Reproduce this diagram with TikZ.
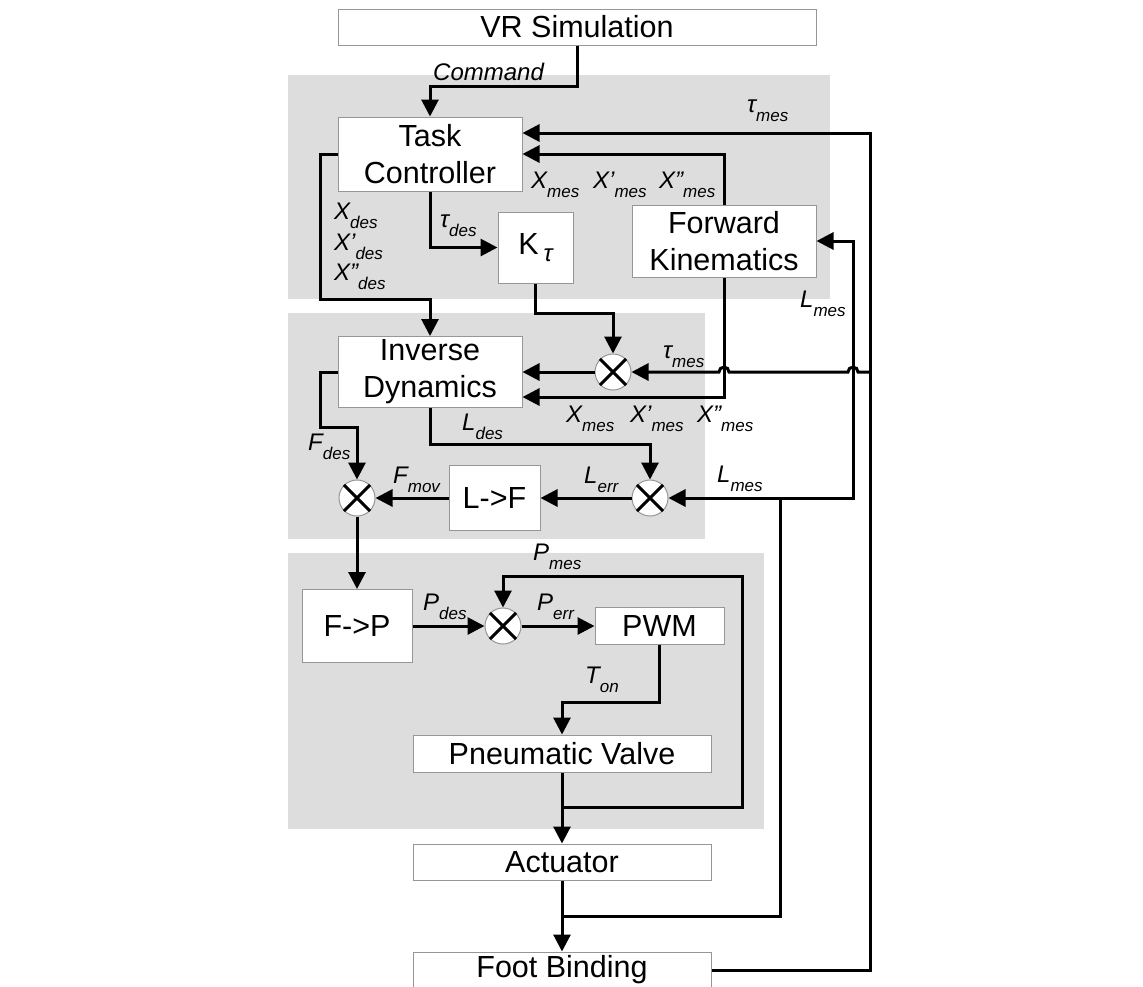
\documentclass[tikz,border=0pt]{standalone}
\usepackage{fontspec}
\setmainfont{Liberation Sans}
\usetikzlibrary{arrows.meta}
\definecolor{panel}{RGB}{221,221,221}
\definecolor{bord}{RGB}{150,150,150}
\newcommand{\lsub}[1]{\raisebox{-9pt}{\fontsize{17}{17}\selectfont\itshape #1}}
\begin{document}
\begin{tikzpicture}[x=1pt,y=-1pt,
  box/.style={draw=bord, line width=1pt, fill=white, inner sep=0pt, font=\fontsize{30.5}{37}\selectfont, align=center},
  conn/.style={line width=3pt, -{Triangle[length=17pt,width=17pt]}},
  wire/.style={line width=3pt},
  lab/.style={inner sep=0pt, anchor=base west, font=\fontsize{24}{26}\selectfont\itshape},
  mult/.style={circle, draw=bord, line width=1pt, fill=white, minimum size=36pt, inner sep=0pt},
  cross/.style={line width=3pt}]
\useasboundingbox (0,0) rectangle (1143,986);
% panels
\fill[panel] (288,75) rectangle (830,299);
\fill[panel] (288,313) rectangle (705,539);
\fill[panel] (288,553) rectangle (764,829);
% boxes
\node[box, minimum width=478pt, minimum height=36pt] (VR) at (577,27) {VR Simulation};
\node[box, minimum width=184pt, minimum height=74pt] (TC) at (430,154) {Task\\Controller};
\node[box, minimum width=75pt, minimum height=71pt] (Kt) at (535.5,247.5) {K\,\raisebox{-7pt}{\fontsize{24}{24}\selectfont\itshape τ}};
\node[box, minimum width=184pt, minimum height=72pt] (FK) at (724,241) {Forward\\Kinematics};
\node[box, minimum width=184pt, minimum height=71pt] (ID) at (430,372) {Inverse\\Dynamics};
\node[box, minimum width=91pt, minimum height=65pt] (LF) at (494.5,498) {L->F};
\node[box, minimum width=110pt, minimum height=73pt] (FP) at (357,626) {F->P};
\node[box, minimum width=129pt, minimum height=37pt] (PWM) at (659.5,626) {PWM};
\node[box, minimum width=298pt, minimum height=37pt] (PV) at (562,753.5) {Pneumatic Valve};
\node[box, minimum width=298pt, minimum height=36pt] (Act) at (562,862) {Actuator};
\node[box, minimum width=298pt, minimum height=36pt] (FB) at (562,970) {Foot Binding};
% multipliers
\node[mult] (cT) at (613,372) {};
\node[mult] (cF) at (357,498) {};
\node[mult] (cL) at (650,498) {};
\node[mult] (cP) at (503,626) {};
\foreach \c in {cT,cF,cL,cP}{
  \draw[cross] (\c.45) -- (\c.225) (\c.135) -- (\c.315);
}
% junction coordinates
\coordinate (jA) at (562,916);
\coordinate (jP) at (562,807);
\coordinate (jL) at (780,498);
\coordinate (jT) at (870,372);
% connectors
\draw[conn] (VR.south) |- (430,86) -- (TC.north);
\draw[conn] (TC.west) -| (320,299) -- (430,299) -- (ID.north);
\draw[conn] (TC.south) |- (Kt.west);
\draw[conn] (Kt.south) -- (535.5,313) -| (cT.north);
\draw[conn] (cT.west) -- (ID.east);
\draw[conn] (FK.south) |- ([yshift=-25pt]ID.east);
\draw[conn] (FK.north) |- (TC.east);
\draw[conn] (FB.east) -| (870,133) -- ([yshift=21pt]TC.east);
\draw[conn] (jT) -- (858,372) arc[start angle=0,end angle=180,radius=5pt] -- (729,372) arc[start angle=0,end angle=180,radius=5pt] -- (cT.east);
\draw[conn] (jA) -| (jL) -- (cL.east);
\draw[conn] (jL) -| (853,241) -- (FK.east);
\draw[conn] (ID.west) -| (320,427) -| (cF.north);
\draw[conn] (ID.south) |- (650,444) -- (cL.north);
\draw[conn] (cL.west) -- (LF.east);
\draw[conn] (LF.west) -- (cF.east);
\draw[conn] (cF.south) -- (FP.north);
\draw[conn] (FP.east) -- (cP.west);
\draw[conn] (cP.east) -- (PWM.west);
\draw[conn] (PWM.south) |- (562,702) -- (PV.north);
\draw[conn] (PV.south) -- (Act.north);
\draw[conn] (jP) -| (742,576) -| (cP.north);
\draw[conn] (Act.south) -- (FB.north);
% labels
\node[lab] (lCmd) at (433,80) {Command};
\node[lab] (lTm1) at (747,112) {τ\lsub{mes}};
\node[lab] (lX1) at (531,188) {X\lsub{mes}};
\node[lab] (lX2) at (593,188) {X’\lsub{mes}};
\node[lab] (lX3) at (659,188) {X”\lsub{mes}};
\node[lab] (lXd1) at (334,219) {X\lsub{des}};
\node[lab] (lXd2) at (334,250) {X’\lsub{des}};
\node[lab] (lXd3) at (334,280) {X”\lsub{des}};
\node[lab] (lTd) at (440,227) {τ\lsub{des}};
\node[lab] (lLm1) at (800,307) {L\lsub{mes}};
\node[lab] (lTm2) at (663,358) {τ\lsub{mes}};
\node[lab] (lY1) at (566,422) {X\lsub{mes}};
\node[lab] (lY2) at (630,422) {X’\lsub{mes}};
\node[lab] (lY3) at (697,422) {X”\lsub{mes}};
\node[lab] (lLd) at (462,430) {L\lsub{des}};
\node[lab] (lFd) at (308,450) {F\lsub{des}};
\node[lab] (lFm) at (393,483) {F\lsub{mov}};
\node[lab] (lLe) at (584,483) {L\lsub{err}};
\node[lab] (lLm2) at (717,482) {L\lsub{mes}};
\node[lab] (lPm) at (533,560) {P\lsub{mes}};
\node[lab] (lPd) at (423,610) {P\lsub{des}};
\node[lab] (lPe) at (537,610) {P\lsub{err}};
\node[lab] (lTo) at (585,683) {T\lsub{on}};
\end{tikzpicture}
\end{document}
